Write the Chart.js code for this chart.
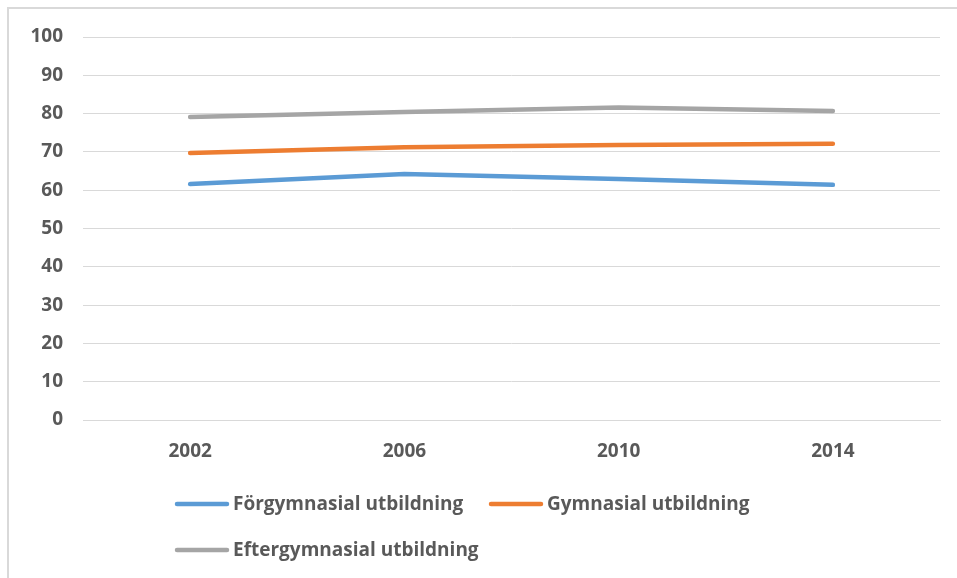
<!DOCTYPE html>
<html>
<head>
<meta charset="utf-8">
<script src="https://cdn.jsdelivr.net/npm/chart.js@4"></script>
<style>
  html, body { margin: 0; padding: 0; background: #fff; }
  #frame { position: absolute; left: 7px; top: 7px; width: 960px; height: 580px;
           border-top: 2px solid #d9d9d9; border-left: 2px solid #d9d9d9; }
  #chart { position: absolute; left: 0; top: 0; }
</style>
</head>
<body>
<div id="frame"></div>
<canvas id="chart" width="957" height="578"></canvas>
<script>
// år och andel per utbildningsnivå
const years = ['2002', '2006', '2010', '2014'];
const forgymnasial = [61.6, 64.2, 62.9, 61.4];
const gymnasial = [69.7, 71.2, 71.8, 72.1];
const eftergymnasial = [79.1, 80.4, 81.6, 80.7];
const seriesNames = ['Förgymnasial utbildning', 'Gymnasial utbildning', 'Eftergymnasial utbildning'];
const seriesColors = ['#5b9bd5', '#ed7d31', '#a5a5a5'];

const textColor = '#595959';
const fontFamily = "'Open Sans', 'Liberation Sans', sans-serif";

/* egen legend: två kolumner, Excel-stil */
const excelLegend = {
  id: 'excelLegend',
  afterDraw(chart) {
    const ctx = chart.ctx;
    const cols = [175, 489];
    const rows = [504, 550];
    ctx.save();
    ctx.font = 'bold 19px ' + fontFamily;
    ctx.textBaseline = 'middle';
    ctx.lineCap = 'round';
    ctx.lineWidth = 4.5;
    chart.data.datasets.forEach((ds, i) => {
      const x = cols[i % 2];
      const y = rows[Math.floor(i / 2)];
      ctx.strokeStyle = ds.borderColor;
      ctx.beginPath();
      ctx.moveTo(x + 2, y);
      ctx.lineTo(x + 52, y);
      ctx.stroke();
      ctx.fillStyle = textColor;
      ctx.fillText(ds.label, x + 58, y + 1);
    });
    ctx.restore();
  }
};

const lineData = [forgymnasial, gymnasial, eftergymnasial];

new Chart(document.getElementById('chart').getContext('2d'), {
  type: 'line',
  data: {
    labels: years,
    datasets: lineData.map((d, i) => ({
      label: seriesNames[i],
      data: d,
      borderColor: seriesColors[i],
      backgroundColor: seriesColors[i],
      borderWidth: 4.5,
      borderCapStyle: 'round',
      borderJoinStyle: 'round',
      pointRadius: 0,
      tension: 0,
      fill: false
    }))
  },
  options: {
    responsive: false,
    animation: false,
    layout: { padding: { left: 0, right: 17, top: 37, bottom: 108 } },
    plugins: {
      legend: { display: false },
      tooltip: { enabled: false }
    },
    scales: {
      x: {
        offset: true,
        grid: { display: false, drawTicks: false },
        border: { display: true, color: '#d9d9d9', width: 1 },
        ticks: { color: textColor, padding: 20, font: { family: fontFamily, size: 19, weight: 'bold' } },
        afterFit: s => { s.height = 50; }
      },
      y: {
        min: 0,
        max: 100,
        ticks: { stepSize: 10, color: textColor, padding: 20, font: { family: fontFamily, size: 19, weight: 'bold' } },
        grid: { color: '#d9d9d9', lineWidth: 1, drawTicks: false },
        border: { display: false },
        afterFit: s => { s.width = 83; }
      }
    }
  },
  plugins: [excelLegend]
});
</script>
</body>
</html>
